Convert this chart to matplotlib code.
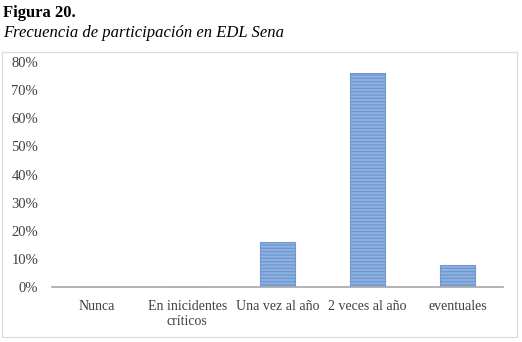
import numpy as np
import matplotlib.pyplot as plt
from matplotlib.patches import Rectangle
from matplotlib.ticker import PercentFormatter

categorias = ['Nunca', 'En inicidentes\ncríticos', 'Una vez al año',
              '2 veces al año', 'eventuales']
frecuencia = [0.0, 0.0, 0.16, 0.76, 0.08]
yticks = np.arange(0, 0.81, 0.1)

plt.rcParams['font.family'] = ['Liberation Serif', 'DejaVu Serif']

fig = plt.figure(figsize=(5.22, 3.42), dpi=100)
ax = fig.add_axes([0.0996, 0.1608, 0.864, 0.6579])

x = np.arange(len(categorias))
ax.bar(x, frecuencia, width=0.39, color='#8fb2e0', edgecolor='#6f98d3',
       linewidth=0.8, hatch='-----')

ax.set_xlim(-0.5, len(categorias) - 0.5)
ax.set_ylim(0, 0.8)
ax.set_yticks(yticks)
ax.yaxis.set_major_formatter(PercentFormatter(1.0, decimals=0))
ax.set_xticks(x, labels=categorias)
ax.tick_params(axis='both', length=0, colors='#404040')
ax.tick_params(axis='x', pad=9, labelsize=10)
ax.tick_params(axis='y', pad=10, labelsize=10.5)

for s in ['top', 'right', 'left']:
    ax.spines[s].set_visible(False)
ax.spines['bottom'].set_color('#a6a6a6')
ax.spines['bottom'].set_linewidth(1.2)

# chart frame
fig.patches.append(Rectangle((2 / 522, 5 / 342), 515 / 522, 285 / 342,
                             transform=fig.transFigure, fill=False,
                             edgecolor='#d9d9d9', linewidth=0.8))

fig.text(3 / 522, 1 - 13 / 342, 'Figura 20.', fontsize=12,
         fontweight='bold', va='center', ha='left')
fig.text(3 / 522, 1 - 33 / 342, 'Frecuencia de participación en EDL Sena',
         fontsize=12, style='italic', va='center', ha='left')

plt.savefig('out.png', dpi=100)
